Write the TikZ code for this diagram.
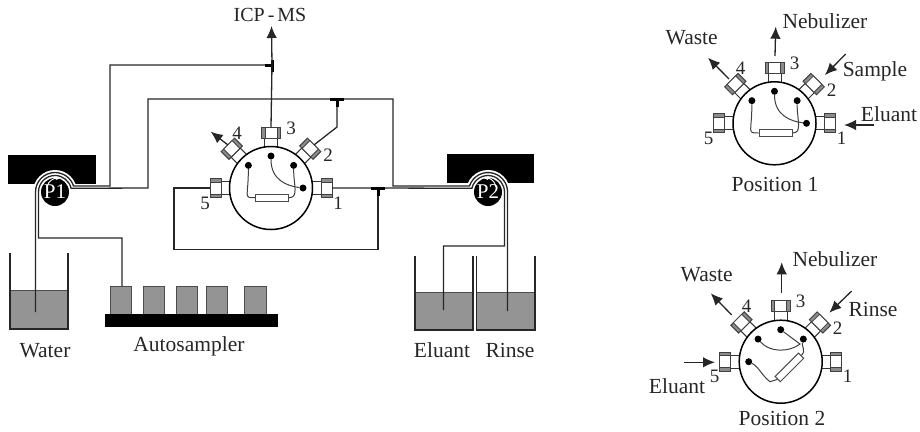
\documentclass[tikz,border=0pt]{standalone}
\usepackage{fontspec}
\setmainfont{Liberation Serif}
\usetikzlibrary{arrows.meta}

\tikzset{
  wire/.style={draw=black!85, line width=1.3pt},
  tee/.style={draw=black, line width=3pt},
  flowarrow/.style={draw=black!85, line width=1.3pt, -{Latex[length=12pt,width=10.5pt]}},
  label/.style={font=\fontsize{21.5}{24}\selectfont, text=black!85, inner sep=0pt},
  portnum/.style={font=\fontsize{19}{20}\selectfont, text=black!85, inner sep=0pt},
  valvebody/.style={circle, draw=black, fill=white, line width=1.5pt, minimum size=83pt, inner sep=0pt},
  portdot/.style={circle, fill=black, minimum size=7pt, inner sep=0pt},
  loopbox/.style={draw=black!70, fill=white, line width=1pt, minimum width=33pt, minimum height=7.3pt, inner sep=0pt},
  loopline/.style={draw=black!75, line width=1pt},
  pumpblock/.style={fill=black},
  pumpdisc/.style={circle, fill=black, text=white, minimum size=28pt, inner sep=0pt, font=\fontsize{21}{22}\selectfont},
  liquid/.style={fill=black!42, draw=black!70, line width=0.7pt},
  beaker/.style={draw=black!85, line width=1.3pt},
  pics/valve/.style={code={
    \foreach \a/\n/\lx/\ly in {0/1/67/15, 45/2/57/-33, 90/3/20/-60, 135/4/-34/-55, 180/5/-66/15}{
      \begin{scope}[rotate=\a]
        \draw[draw=black!80, fill=white, line width=1pt] (38,-6.5) rectangle (50,6.5);
        \draw[draw=black!75, fill=black!45, line width=1pt] (50,-9.5) rectangle (61,9.5);
        \draw[draw=black!75, fill=white, line width=0.8pt] (50,-6) rectangle (61,6);
        \coordinate (-p\n) at (61,0);
      \end{scope}
      \node[portnum] (-n\n) at (\lx,\ly) {\n};
    }
    \node[valvebody] (-c) at (0,0) {};
    \foreach \a/\n in {45/2, 90/3, 135/4}{
      \path[rotate=\a] (32,0) node[portdot] (-d\n) {};
    }
    \path[rotate=#1] (32,0) node[portdot] (-dx) {};
  }}
}

\begin{document}
\begin{tikzpicture}[x=1pt, y=-1pt]
\useasboundingbox (0,0) rectangle (920,431);

\fill[pumpblock] (8,155) rectangle (96,184);
\fill[pumpblock] (447,154) rectangle (534,183);
\fill[white] (55,192) circle (22);
\fill[white] (488,192) circle (22);

\fill[liquid] (10,290) rectangle (68,329);
\draw[beaker] (10,253) -- (10,329) -- (68,329) -- (68,253);
\fill[liquid] (415,292) rectangle (473,330);
\draw[beaker] (415,256) -- (415,330) -- (473,330) -- (473,256);
\fill[liquid] (476.5,292) rectangle (535,330);
\draw[beaker] (476.5,256) -- (476.5,330) -- (535,330) -- (535,256);

\foreach \x/\w in {110.5/21, 143/21, 176/21, 206/21.5, 244/22}{
  \fill[liquid] (\x,286) rectangle +(\w,28);
}
\fill[black] (105,314) rectangle (278,327);

\coordinate (T1) at (272,65);
\coordinate (T2) at (337,99);
\coordinate (T3) at (378,188);
\coordinate (T2a) at (337,127);
\coordinate (W1) at (35.5,312);
\coordinate (S1) at (122,286);
\coordinate (E1) at (443.5,310);
\coordinate (R1) at (507.5,311);

\pic (VA) at (271,188) {valve=0};
\pic (VB) at (774.5,123.3) {valve=0};
\pic (VC) at (780.7,361.7) {valve=180};

\draw[wire] (W1) -- (35.5,192) arc[start angle=180, end angle=342, radius=19.5] -- (110,186) -- (110,65) -- (T1);
\draw[wire] (S1) -- (122,238) -- (38.5,238) -- (38.5,192) arc[start angle=180, end angle=347, radius=16.5] -- (148,188) -- (148,99) -- (393,99) -- (393,186) -- (469.5,186) arc[start angle=198, end angle=360, radius=19.5] -- (R1);
\draw[wire] (VA-p1) -- (T3) -- (471.9,188.3) arc[start angle=193, end angle=360, radius=16.5] -- (504.5,246) -- (443.5,246) -- (E1);
\draw[wire] (T2) -- (T2a) -- (VA-p2);
\draw[wire] (T3) -- (378,249.5) -- (174,249.5) -- (174,188) -- (VA-p5);

\draw[tee] (272,60) -- (272,72);
\draw[tee] (265,65) -- (T1);
\draw[tee] (330,99) -- (344,99);
\draw[tee] (T2) -- (337,107);
\draw[tee] (371,188) -- (385,188);
\draw[tee] (T3) -- (378,196);

\node[pumpdisc] (P1) at (55,192) {\raisebox{-2pt}{P1}};
\node[pumpdisc] (P2) at (488,192) {\raisebox{-2pt}{P2}};
\draw[white, line width=0.9pt, -{Latex[length=4pt,width=4pt]}] (47,187) .. controls (48,181) and (54,178) .. (60,178.5);
\draw[white, line width=0.9pt, -{Latex[length=4pt,width=4pt]}] (496,187) .. controls (495,181) and (490,178) .. (484,178.5);

\draw[wire] (VA-p3) -- (T1);
\node[label, font=\fontsize{20}{24}\selectfont] (icp) at (270,15) {\spaceskip=3pt\relax ICP - MS};
\draw[flowarrow] (T1) -- (271.5,26);
\coordinate (VAw) at (210.7,131.7);
\draw[flowarrow] (VA-p4) -- (VAw);

\node[label] (water) at (45,351) {Water};
\node[label] (autosampler) at (189,346) {Autosampler};
\node[label] (eluant) at (442,350) {Eluant};
\node[label] (rinse) at (510,350) {Rinse};

\node[loopbox] (VA-l) at (272,197.7) {};
\draw[loopline] (VA-d4) .. controls +(0,32) and +(-12,0) .. (VA-l.west);
\draw[loopline] (VA-l.east) .. controls +(10,0) and +(0,20) .. (VA-d2);
\draw[loopline] (VA-d3) .. controls +(0,24) and +(-16,-2) .. (VA-dx);

\node[loopbox] (VB-l) at (775.5,133) {};
\draw[loopline] (VB-d4) .. controls +(0,32) and +(-12,0) .. (VB-l.west);
\draw[loopline] (VB-l.east) .. controls +(10,0) and +(0,20) .. (VB-d2);
\draw[loopline] (VB-d3) .. controls +(0,24) and +(-16,-2) .. (VB-dx);

\node[loopbox, rotate=45] (VC-l) at (789.4,367.4) {};
\coordinate (VCa) at (800,344);
\coordinate (VCb) at (770,381.7);
\draw[loopline] (VC-l.east) .. controls +(5,-5) and +(-2,8) .. (VC-d2);
\draw[loopline] (VC-d4) .. controls +(12,14) and +(-10,8) .. (VCa) -- (VC-d3);
\draw[loopline] (VC-dx) .. controls +(10,5) and +(-8,-6) .. (VCb) -- (VC-l.west);

\coordinate (Ba) at (775,56);
\coordinate (Bb) at (775.7,26.7);
\coordinate (Bc) at (729,79);
\coordinate (Bd) at (708,57.7);
\coordinate (Be) at (845.7,54);
\coordinate (Bf) at (825,75);
\coordinate (Bg) at (874,125);
\coordinate (Bh) at (844,125);
\draw[flowarrow] (Ba) -- (Bb);
\draw[flowarrow] (Bc) -- (Bd);
\draw[flowarrow] (Be) -- (Bf);
\draw[flowarrow] (Bg) -- (Bh);
\node[label] (wasteb) at (691.7,38) {Waste};
\node[label] (nebb) at (825,21) {Nebulizer};
\node[label] (sample) at (875,71) {Sample};
\node[label] (eluantb) at (889,114) {Eluant};
\node[label] (posb) at (775,184) {Position 1};

\coordinate (Ca) at (781.7,292.7);
\coordinate (Cb) at (781.7,262.3);
\coordinate (Cc) at (731.7,315);
\coordinate (Cd) at (710.7,293.3);
\coordinate (Ce) at (851.7,291);
\coordinate (Cf) at (829.3,312.7);
\coordinate (Cg) at (684.3,362.3);
\coordinate (Ch) at (715,362.3);
\draw[flowarrow] (Ca) -- (Cb);
\draw[flowarrow] (Cc) -- (Cd);
\draw[flowarrow] (Ce) -- (Cf);
\draw[flowarrow] (Cg) -- (Ch);
\node[label] (wastec) at (706.7,275) {Waste};
\node[label] (nebc) at (835,259) {Nebulizer};
\node[label] (rinsec) at (873,309) {Rinse};
\node[label] (eluantc) at (677,386) {Eluant};
\node[label] (posc) at (782,418) {Position 2};

\end{tikzpicture}
\end{document}
